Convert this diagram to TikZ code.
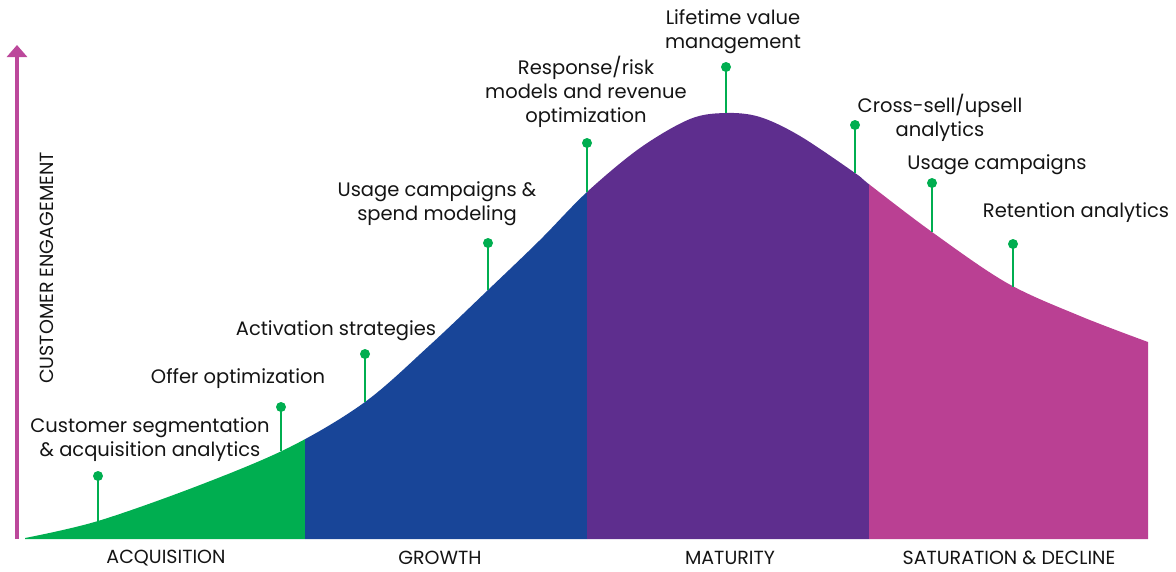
\documentclass[tikz,border=0pt]{standalone}
\usepackage{fontspec}
\setmainfont{Poppins}
\usetikzlibrary{arrows.meta}
\definecolor{cgreen}{RGB}{0,174,80}
\definecolor{cblue}{RGB}{24,69,152}
\definecolor{cpurple}{RGB}{94,46,142}
\definecolor{cmag}{RGB}{186,64,147}
\definecolor{caxis}{RGB}{188,72,155}
\definecolor{ctext}{RGB}{20,20,20}
\tikzset{
  lbl/.style={align=center, text=ctext, inner sep=0pt, font=\fontsize{19.5}{24}\selectfont},
  phase/.style={text=ctext, inner sep=0pt, font=\fontsize{19}{22}\selectfont},
  dotm/.style={circle, fill=cgreen, minimum size=10pt, inner sep=0pt},
  stem/.style={draw=cgreen, line width=2.6pt},
}
\newcommand{\lifefill}[1]{\fill[#1] (25,539) -- plot[smooth,tension=0.55] coordinates {(25,538) (98,521) (200,485) (290,447) (365,402) (430,345) (488,290) (540,240) (587,192) (640,148) (690,119) (726,113) (760,117) (800,136) (855,173) (870,185) (932,232) (1007,283) (1080,316) (1148,342)} -- (1148,539) -- cycle;}
\begin{document}
\begin{tikzpicture}[x=1pt,y=-1pt]
\useasboundingbox (0,0) rectangle (1176,571);
% regions
\begin{scope}\clip (0,0) rectangle (305,540);\lifefill{cgreen}\end{scope}
\begin{scope}\clip (305,0) rectangle (587,540);\lifefill{cblue}\end{scope}
\begin{scope}\clip (587,0) rectangle (869,540);\lifefill{cpurple}\end{scope}
\begin{scope}\clip (869,0) rectangle (1176,540);\lifefill{cmag}\end{scope}
% axis
\coordinate (ybot) at (17,539);
\coordinate (ytop) at (17,45);
\draw[caxis, line width=4pt, -{Triangle[width=20pt,length=12pt]}] (ybot) -- (ytop);
\node[phase, rotate=90] (yl) at (47,268) {CUSTOMER ENGAGEMENT};
% stems
\foreach \n/\x/\yd/\yc in {1/98/476/521, 2/281/407/451, 3/365/354/402, 4/488/243/290, 5/587/143/192, 6/726/67/113, 7/855/125/173, 8/932/183/232, 9/1013/244/287} {
  \coordinate (c\n) at (\x,\yc);
  \node[dotm] (d\n) at (\x,\yd) {};
  \draw[stem] (d\n.center) -- (c\n);
}
% labels
\node[lbl] (l1) at (150,440) {Customer segmentation\\\& acquisition analytics};
\node[lbl] (l2) at (238,379) {Offer optimization};
\node[lbl] (l3) at (336,331) {Activation strategies};
\node[lbl] (l4) at (437,204) {Usage campaigns \&\\spend modeling};
\node[lbl] (l5) at (586,92) {Response/risk\\models and revenue\\optimization};
\node[lbl] (l6) at (733,32) {Lifetime value\\management};
\node[lbl] (l7) at (940,118) {Cross-sell/upsell\\analytics};
\node[lbl] (l8) at (997,165) {Usage campaigns};
\node[lbl] (l9) at (1076,213) {Retention analytics};
% phases
\node[phase] (p1) at (166,558) {ACQUISITION};
\node[phase] (p2) at (440,558) {GROWTH};
\node[phase] (p3) at (730,558) {MATURITY};
\node[phase] (p4) at (1009,558) {SATURATION \& DECLINE};
\end{tikzpicture}
\end{document}
